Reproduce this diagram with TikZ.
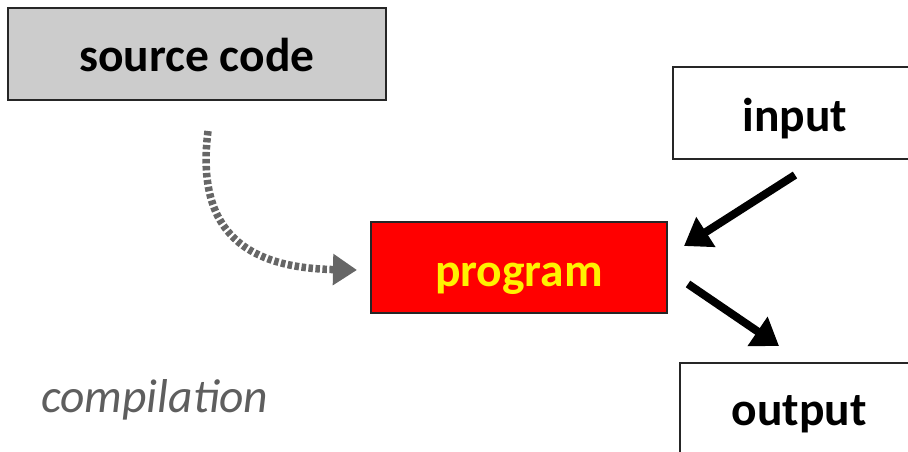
\documentclass[tikz,border=0pt]{standalone}
\usepackage{fontspec}
\setmainfont{Carlito}
\usetikzlibrary{arrows.meta}
\definecolor{boxgray}{HTML}{CCCCCC}
\definecolor{dotgray}{HTML}{666666}
\definecolor{notegray}{HTML}{5E5E5E}
\tikzset{
  box/.style={draw=black!85, line width=1.3pt, rectangle, inner sep=0pt,
    text depth=0pt, font=\fontsize{47.5}{52}\selectfont\bfseries},
  flow/.style={line width=8pt, -{Triangle[length=26pt,width=34pt]}},
  compile/.style={line width=7.5pt, dotgray, dash pattern=on 4.5pt off 2.5pt,
    -{Triangle[length=24pt,width=30pt]}}
}
\begin{document}
\begin{tikzpicture}[x=1pt,y=-1pt]
  \useasboundingbox (0,0) rectangle (908,452);
  \clip (0,0) rectangle (908,452);
  % boxes
  \node[box, fill=boxgray, minimum width=378pt, minimum height=92pt] (src) at (197,54) {};
  \node[box, fill=red, minimum width=296pt, minimum height=91pt] (prog) at (519,267.5) {};
  \node[box, fill=white, minimum width=244pt, minimum height=92pt] (in) at (795,113) {};
  \node[box, fill=white, minimum width=240pt, minimum height=94pt] (out) at (800,410) {};
  % box captions, set on a common baseline inside each box
  \node[box, draw=none, anchor=base] (srcT) at (197,72) {source code};
  \node[box, draw=none, text=yellow, anchor=base] (progT) at (519,286) {program};
  \node[box, draw=none, anchor=base] (inT) at (795,131) {input};
  \node[box, draw=none, anchor=base] (outT) at (799,425) {output};
  % label
  \node[text=notegray, font=\fontsize{47.5}{52}\selectfont\itshape, anchor=base west, inner sep=0pt] (lbl) at (41,412) {compilation};
  % arrow end points
  \coordinate (inA) at (795,175);
  \coordinate (inB) at (684,246);
  \coordinate (outA) at (688,284);
  \coordinate (outB) at (779,346);
  \coordinate (cA) at (208,131);
  \coordinate (cB) at (357,270);
  % connectors
  \draw[flow] (inA) -- (inB);
  \draw[flow] (outA) -- (outB);
  \draw[compile] (cA) .. controls (195,235) and (250,268) .. (cB);
\end{tikzpicture}
\end{document}
